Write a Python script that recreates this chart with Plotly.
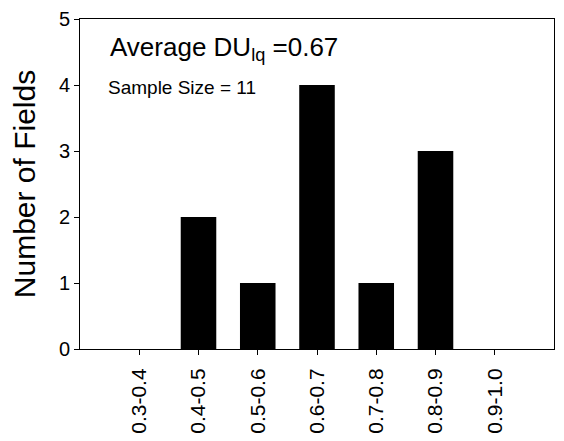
import plotly.graph_objects as go

categories = ["0.3-0.4", "0.4-0.5", "0.5-0.6", "0.6-0.7", "0.7-0.8", "0.8-0.9", "0.9-1.0"]
counts = [0, 2, 1, 4, 1, 3, 0]
y_ticks = [0, 1, 2, 3, 4, 5]

FONT = "Liberation Sans, Arial, sans-serif"

fig = go.Figure()
fig.add_trace(go.Bar(
    x=categories, y=counts, width=0.6,
    marker=dict(color="black", line=dict(width=0)),
))

# margins compensate for the page's default 8px body margin
fig.update_layout(
    width=564, height=441,
    margin=dict(l=72, r=18, t=11, b=100),
    paper_bgcolor="white", plot_bgcolor="white",
    font=dict(family=FONT, color="black"),
    showlegend=False,
    xaxis=dict(
        type="category", range=[-1, 7], automargin=False,
        tickangle=-90, tickfont=dict(size=21),
        ticks="outside", ticklen=5, tickcolor="black", ticklabelstandoff=5,
        showline=True, linecolor="black", linewidth=1, mirror=True,
        showgrid=False, zeroline=False,
    ),
    yaxis=dict(
        range=[0, 5], tickvals=y_ticks, tickfont=dict(size=20), automargin=False,
        ticks="outside", ticklen=5, tickcolor="black",
        showline=True, linecolor="black", linewidth=1, mirror=True,
        showgrid=False, zeroline=False,
        title=dict(text="Number of Fields", font=dict(size=30), standoff=17),
    ),
    annotations=[
        dict(text="Average DU<sub>lq</sub> =0.67", xref="paper", yref="paper",
             x=0.06, y=0.912, xanchor="left", yanchor="middle", showarrow=False,
             font=dict(size=26)),
        dict(text="Sample Size = 11", xref="paper", yref="paper",
             x=0.055, y=0.791, xanchor="left", yanchor="middle", showarrow=False,
             font=dict(size=19)),
    ],
)

fig.write_html("out.html")
